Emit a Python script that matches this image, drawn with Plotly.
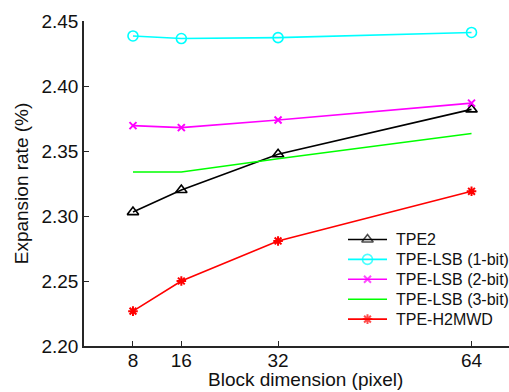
import plotly.graph_objects as go

block_dims = [8, 16, 32, 64]
tpe2 = [2.303, 2.320, 2.3475, 2.382]
lsb1 = [2.4385, 2.4365, 2.4372, 2.4412]
lsb2 = [2.3695, 2.3680, 2.3738, 2.3868]
lsb3 = [2.3338, 2.3338, 2.3440, 2.3635]
h2mwd = [2.2268, 2.2500, 2.2808, 2.3190]

y_ticks = [2.20, 2.25, 2.30, 2.35, 2.40, 2.45]
series_names = ["TPE2", "TPE-LSB (1-bit)", "TPE-LSB (2-bit)", "TPE-LSB (3-bit)", "TPE-H2MWD"]

FONT = "Arial, Liberation Sans, sans-serif"
W, H = 509, 392
L, R, T, B = 84, 0, 21, 46

colors = ["black", "#00FFFF", "#FF00FF", "#00FF00", "#FF0000"]
markers = [
    dict(symbol="triangle-up-open", size=10, line=dict(width=1.6, color="black")),
    dict(symbol="circle-open", size=10, line=dict(width=1.6, color="#00FFFF")),
    dict(symbol="x-thin-open", size=7, line=dict(width=2, color="#FF00FF")),
    None,
    dict(symbol="asterisk-open", size=8, line=dict(width=2, color="#FF0000")),
]
values = [tpe2, lsb1, lsb2, lsb3, h2mwd]

fig = go.Figure()
for name, vals, color, marker in zip(series_names, values, colors, markers):
    if marker is None:
        fig.add_trace(go.Scatter(x=block_dims, y=vals, name=name, mode="lines",
                                 line=dict(color=color, width=1.6), showlegend=False))
    else:
        fig.add_trace(go.Scatter(x=block_dims, y=vals, name=name, mode="lines+markers",
                                 line=dict(color=color, width=1.6), marker=marker, showlegend=False))

# Manual legend drawn in a pixel-space overlay axis (legend keys only, not data)
leg_x0, leg_x1, leg_text_x = 348, 387, 394
leg_y0, leg_dy = 239.5, 19.9
annotations = []
for i, (name, color, marker) in enumerate(zip(series_names, colors, markers)):
    yy = leg_y0 + i * leg_dy
    xm = (leg_x0 + leg_x1) / 2
    if marker is None:
        fig.add_trace(go.Scatter(x=[leg_x0, leg_x1], y=[yy, yy], mode="lines",
                                 line=dict(color=color, width=1.6), xaxis="x2", yaxis="y2",
                                 showlegend=False, hoverinfo="skip"))
    else:
        m = dict(marker)
        m["size"] = [0, marker["size"], 0]
        fig.add_trace(go.Scatter(x=[leg_x0, xm, leg_x1], y=[yy, yy, yy], mode="lines+markers",
                                 line=dict(color=color, width=1.6), marker=m, xaxis="x2", yaxis="y2",
                                 showlegend=False, hoverinfo="skip"))
    annotations.append(dict(x=leg_text_x, y=yy, xref="x2", yref="y2", text=name, showarrow=False,
                            xanchor="left", yanchor="middle",
                            font=dict(family=FONT, size=16, color="#111")))

annotations.append(dict(x=305, y=-(379.5 - (H - B)) / (H - B - T), xref="x2", yref="paper",
                        text="Block dimension (pixel)", showarrow=False,
                        xanchor="center", yanchor="middle",
                        font=dict(family=FONT, size=19, color="#111")))

axis_common = dict(
    showline=True, linecolor="#262626", linewidth=1.5, ticks="inside", ticklen=5,
    tickcolor="#262626", tickwidth=1.2, showgrid=False, zeroline=False, mirror=False,
    tickfont=dict(family=FONT, size=19, color="#111"),
)

fig.update_layout(
    width=W, height=H,
    margin=dict(l=L, r=R, t=T, b=B),
    paper_bgcolor="white", plot_bgcolor="white",
    font=dict(family=FONT, color="#111"),
    showlegend=False,
    annotations=annotations,
    xaxis=dict(**axis_common, range=[-0.1, 70.2], tickvals=block_dims,
               ticktext=[str(v) for v in block_dims], ticklabelstandoff=-4),
    yaxis=dict(**axis_common, range=[2.20, 2.45], tickvals=y_ticks,
               ticktext=[f"{v:.2f}" for v in y_ticks],
               title=dict(text="Expansion rate (%)", font=dict(family=FONT, size=19), standoff=8)),
    xaxis2=dict(overlaying="x", range=[L, W - R], visible=False, fixedrange=True),
    yaxis2=dict(overlaying="y", range=[H - B, T], visible=False, fixedrange=True),
)

fig.write_html("out.html")
